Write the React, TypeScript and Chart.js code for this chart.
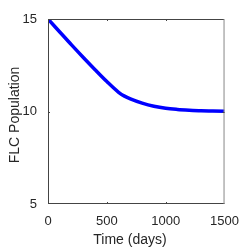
import React, { useEffect, useRef } from "react";
import { Chart, registerables } from "chart.js";

Chart.register(...registerables);

const days = [0, 100, 200, 300, 400, 500, 600, 650, 700, 800, 900, 1000, 1100, 1200, 1300, 1400, 1500];
const population = [15, 14.3, 13.6, 12.92, 12.26, 11.62, 11.04, 10.83, 10.68, 10.45, 10.28, 10.17, 10.11, 10.07, 10.04, 10.03, 10.02];
const xTicks = [0, 500, 1000, 1500];
const yTicks = [5, 10, 15];
const xTitle = "Time (days)";
const yTitle = "FLC Population";

const FONT = "'Liberation Sans', Arial, Helvetica, sans-serif";
const TEXT = "#262626";

const boxPlugin = {
  id: "matlabBox",
  afterDraw(chart: any) {
    const { ctx, chartArea } = chart;
    const { left, right, top, bottom } = chartArea;
    const xs = chart.scales.x;
    const ys = chart.scales.y;
    ctx.save();
    ctx.lineWidth = 1;
    ctx.strokeStyle = "#444444";
    ctx.beginPath();
    ctx.moveTo(left + 0.5, top + 0.5);
    ctx.lineTo(right - 0.5, top + 0.5);
    ctx.moveTo(left + 0.5, top);
    ctx.lineTo(left + 0.5, bottom);
    ctx.moveTo(left, bottom - 0.5);
    ctx.lineTo(right, bottom - 0.5);
    ctx.stroke();
    ctx.strokeStyle = "#888888";
    ctx.beginPath();
    ctx.moveTo(right - 0.5, top);
    ctx.lineTo(right - 0.5, bottom);
    ctx.stroke();
    // inward ticks
    ctx.strokeStyle = "#444444";
    ctx.beginPath();
    xTicks.forEach((v) => {
      const px = Math.round(xs.getPixelForValue(v)) + 0.5;
      if (v === xTicks[0] || v === xTicks[xTicks.length - 1]) return;
      ctx.moveTo(px, bottom);
      ctx.lineTo(px, bottom - 2);
      ctx.moveTo(px, top);
      ctx.lineTo(px, top + 2);
    });
    yTicks.forEach((v) => {
      const py = Math.round(ys.getPixelForValue(v)) + 0.5;
      if (v === yTicks[0] || v === yTicks[yTicks.length - 1]) return;
      ctx.moveTo(left, py);
      ctx.lineTo(left + 2, py);
      ctx.moveTo(right, py);
      ctx.lineTo(right - 2, py);
    });
    ctx.stroke();
    // axis titles
    ctx.fillStyle = TEXT;
    ctx.font = `14px ${FONT}`;
    ctx.textAlign = "center";
    ctx.textBaseline = "middle";
    ctx.fillText(xTitle, 130, 240);
    ctx.translate(15, 115);
    ctx.rotate(-Math.PI / 2);
    ctx.fillText(yTitle, 0, 0);
    ctx.restore();
  },
};

export default function App() {
  const ref = useRef<HTMLCanvasElement>(null);
  useEffect(() => {
    if (!ref.current) return;
    const chart = new Chart(ref.current, {
      type: "line",
      data: {
        datasets: [
          {
            data: days.map((d, i) => ({ x: d, y: population[i] })),
            borderColor: "#0000ff",
            borderWidth: 3.5,
            pointRadius: 0,
            fill: false,
            cubicInterpolationMode: "monotone",
          },
        ],
      },
      options: {
        animation: false,
        responsive: false,
        maintainAspectRatio: false,
        layout: { padding: { top: 19, right: 24, left: 0, bottom: 0 } },
        plugins: { legend: { display: false }, tooltip: { enabled: false } },
        scales: {
          x: {
            type: "linear",
            min: 0,
            max: 1500,
            afterFit: (s: any) => {
              s.height = 45;
            },
            afterBuildTicks: (s: any) => {
              s.ticks = xTicks.map((v) => ({ value: v }));
            },
            grid: { display: false, drawTicks: false },
            border: { display: false },
            ticks: {
              padding: 10,
              color: TEXT,
              font: { family: FONT, size: 13 },
              maxRotation: 0,
              callback: (v: any) => String(v),
            },
          },
          y: {
            type: "linear",
            min: 5,
            max: 15,
            afterFit: (s: any) => {
              s.width = 48;
            },
            afterBuildTicks: (s: any) => {
              s.ticks = yTicks.map((v) => ({ value: v }));
            },
            grid: { display: false, drawTicks: false },
            border: { display: false },
            ticks: { padding: 11, color: TEXT, font: { family: FONT, size: 13 }, callback: (v: any) => String(v) },
          },
        },
      },
      plugins: [boxPlugin],
    });
    return () => chart.destroy();
  }, []);
  return (
    <div style={{ position: "fixed", left: 0, top: 0, width: 249, height: 249, background: "#fff" }}>
      <canvas ref={ref} width={249} height={249} />
    </div>
  );
}
